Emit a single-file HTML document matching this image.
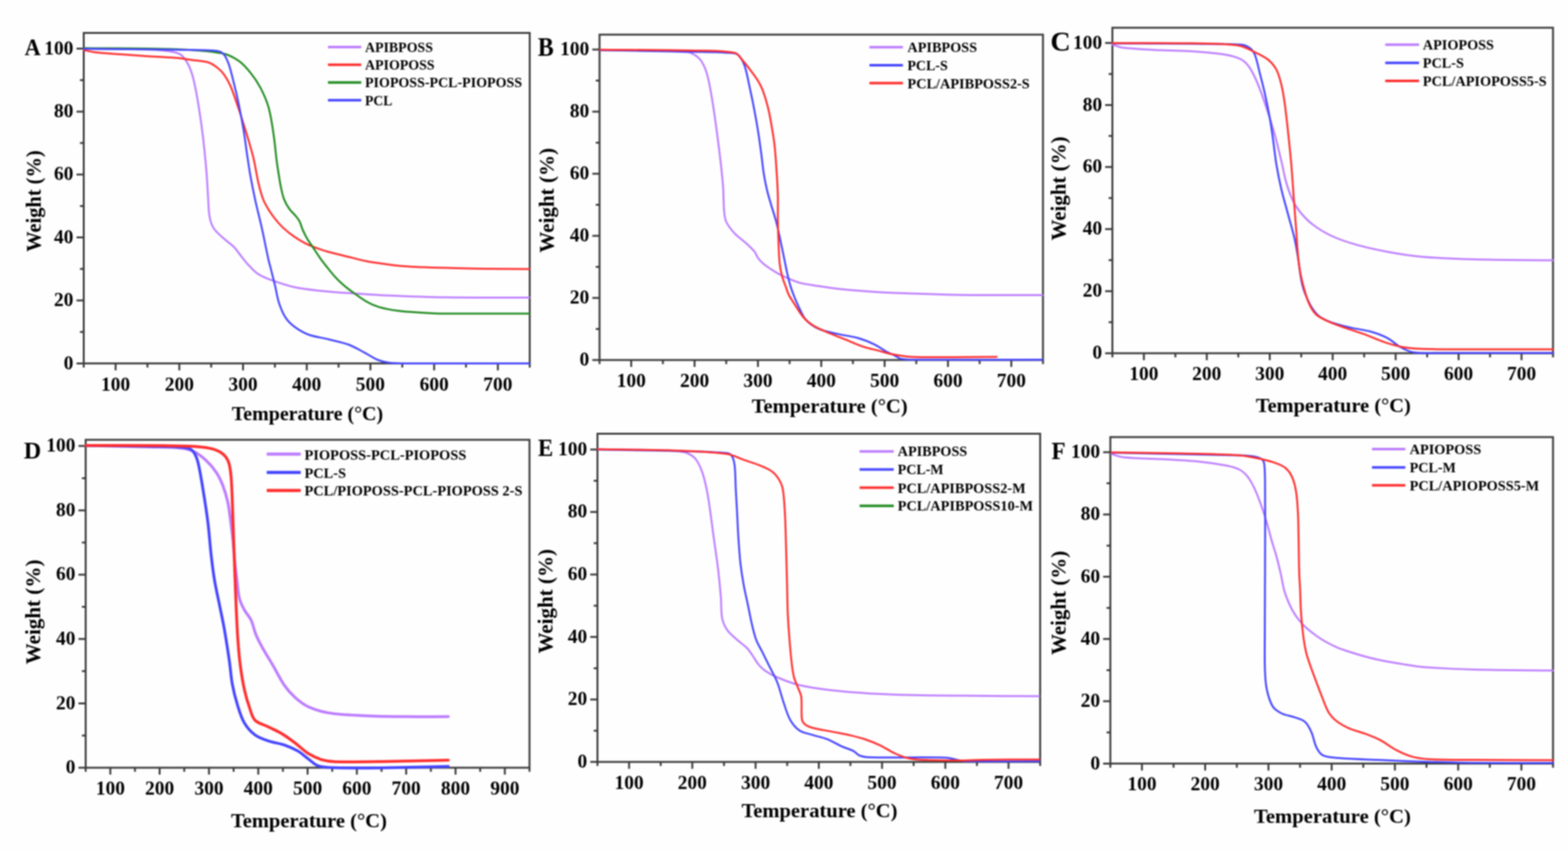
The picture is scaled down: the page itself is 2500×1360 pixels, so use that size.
<!DOCTYPE html>
<html><head><meta charset="utf-8"><title>TGA curves</title>
<style>html,body{margin:0;padding:0;background:#fefefe;}svg{display:block;filter:blur(1px);}</style>
</head><body>
<svg width="2500" height="1360" viewBox="0 0 2500 1360">
<rect width="2500" height="1360" fill="#fefefe"/>
<g font-family="'Liberation Serif', 'Times New Roman', serif" font-weight="bold" fill="#000">
<rect x="133.5" y="52.5" width="711.1" height="526.9" fill="none" stroke="#3a3a3a" stroke-width="3"/>
<path d="M133.5,579.4H122M133.5,529.2H127.5M133.5,479H122M133.5,428.8H127.5M133.5,378.6H122M133.5,328.4H127.5M133.5,278.3H122M133.5,228.1H127.5M133.5,177.9H122M133.5,127.7H127.5M133.5,77.5H122M133.5,579.4V585.9M184.3,579.4V590.4M235.1,579.4V585.9M285.9,579.4V590.4M336.7,579.4V585.9M387.5,579.4V590.4M438.3,579.4V585.9M489.1,579.4V590.4M539.8,579.4V585.9M590.6,579.4V590.4M641.4,579.4V585.9M692.2,579.4V590.4M743,579.4V585.9M793.8,579.4V590.4M844.6,579.4V585.9" stroke="#3a3a3a" stroke-width="3" fill="none"/>
<text x="117.1" y="588.5" font-size="31" text-anchor="end">0</text>
<text x="117.1" y="488.1" font-size="31" text-anchor="end">20</text>
<text x="117.1" y="387.7" font-size="31" text-anchor="end">40</text>
<text x="117.1" y="287.4" font-size="31" text-anchor="end">60</text>
<text x="117.1" y="187" font-size="31" text-anchor="end">80</text>
<text x="117.1" y="86.6" font-size="31" text-anchor="end">100</text>
<text x="184.3" y="622.5" font-size="31" text-anchor="middle">100</text>
<text x="285.9" y="622.5" font-size="31" text-anchor="middle">200</text>
<text x="387.5" y="622.5" font-size="31" text-anchor="middle">300</text>
<text x="489.1" y="622.5" font-size="31" text-anchor="middle">400</text>
<text x="590.6" y="622.5" font-size="31" text-anchor="middle">500</text>
<text x="692.2" y="622.5" font-size="31" text-anchor="middle">600</text>
<text x="793.8" y="622.5" font-size="31" text-anchor="middle">700</text>
<text x="369.6" y="670.3" font-size="32.5" textLength="241.3" lengthAdjust="spacingAndGlyphs">Temperature (°C)</text>
<text transform="translate(64.6,401.4) rotate(-90)" font-size="33" textLength="161.7" lengthAdjust="spacingAndGlyphs">Weight (%)</text>
<text x="39.3" y="88.2" font-size="38.8" textLength="25.6" lengthAdjust="spacingAndGlyphs">A</text>
<path d="M522.9,75.1H576" stroke="#bc7cff" stroke-width="4"/>
<text x="582" y="82.9" font-size="22.5" textLength="108.2" lengthAdjust="spacingAndGlyphs">APIBPOSS</text>
<path d="M522.9,103.3H576" stroke="#ff2c2c" stroke-width="4"/>
<text x="582" y="110.8" font-size="22.5" textLength="110.9" lengthAdjust="spacingAndGlyphs">APIOPOSS</text>
<path d="M522.9,131.6H576" stroke="#1e8a1e" stroke-width="4"/>
<text x="582" y="139.3" font-size="22.5" textLength="250.3" lengthAdjust="spacingAndGlyphs">PIOPOSS-PCL-PIOPOSS</text>
<path d="M522.9,159.7H576" stroke="#4444ff" stroke-width="4"/>
<text x="582" y="167.9" font-size="22.5" textLength="43.6" lengthAdjust="spacingAndGlyphs">PCL</text>
<path d="M133.5,77.8C166.6,78.1 199.8,78 232.9,78.8C243.2,79 253.5,79.8 263.8,80.9C269.2,81.5 274.8,82.2 280,83.8C283.7,84.9 287.9,86.4 290.6,89.1C295,93.5 298.5,99.3 301.2,105C304.7,112.5 307.2,120.7 309.1,128.8C312.4,142.7 314.7,156.9 317,171.1C319.6,186.9 321.8,202.9 323.7,218.8C325.8,236.4 327.5,254 329,271.7C330.1,284.9 330.7,298.2 331.6,311.4C332.4,322.9 332.2,334.6 334.2,345.8C335.3,352.2 337.4,358.9 340.9,364.3C344.9,370.4 351.2,375.2 356.7,380.2C361.8,384.9 367.8,388.6 372.6,393.4C376.6,397.4 379.7,402.3 383.2,406.7C386.7,411.1 390,415.8 393.8,419.9C399.2,425.7 404.4,432.1 410.9,436.5C417.9,441.2 426.3,444.3 434.4,447.2C446,451.4 457.9,455.4 470,458C483.5,460.9 497.4,462.2 511.2,463.7C528.3,465.5 545.5,466.6 562.7,467.8C579.8,469 597,470.2 614.1,470.9C646.1,472.2 678,473.5 710,474C754.7,474.7 799.3,474.3 844,474.5" stroke="#bc7cff" stroke-width="3.0" fill="none" stroke-linejoin="round" stroke-linecap="round"/>
<path d="M133.5,79.8C139.2,80.9 144.8,82.5 150.6,83.2C164.3,84.8 178.1,85.5 191.8,86.6C205.5,87.7 219.2,88.7 232.9,89.6C248.6,90.6 264.3,91 280,92.3C288.9,93 297.7,94.5 306.5,95.7C315.3,96.9 324.5,97.2 332.9,99.7C337.8,101.2 342.2,104.5 346.2,107.6C350.1,110.6 353.8,114.2 356.7,118.2C360.8,123.9 364.4,130.2 367.3,136.7C371.5,146.1 374.5,156.1 377.9,165.8C380.7,173.7 383.3,181.7 385.8,189.7C389.4,201.1 393,212.6 396.4,224.1C399.2,233.8 402.1,243.4 404.4,253.2C407.4,266.3 409.2,279.8 412.3,292.9C414.4,301.8 416.8,310.8 420.2,319.3C422.7,325.5 426.4,331.3 430,337C433,341.7 436.4,346.3 440,350.6C443.7,355.1 447.5,359.6 451.8,363.5C457.3,368.6 463.3,373.3 469.4,377.6C475,381.5 481,385 487.1,388.2C491.6,390.5 496.4,392.3 501.2,394.1C508.2,396.7 515.2,399.2 522.4,401.2C534.8,404.7 547.5,407.5 560,410.6C567.8,412.5 575.5,414.8 583.3,416.3C593.5,418.3 603.8,419.6 614.1,421C624.4,422.4 634.7,423.7 645,424.6C655.3,425.4 665.6,425.7 675.9,426.1C687.3,426.5 698.6,426.8 710,427.1C730,427.6 750,428.2 770,428.5C794.7,428.8 819.3,428.8 844,429" stroke="#ff2c2c" stroke-width="3.0" fill="none" stroke-linejoin="round" stroke-linecap="round"/>
<path d="M133.5,76.8C182.3,77.4 231.2,76.7 280,78.5C304.8,79.4 330,80.7 354.1,85.1C363.5,86.8 372.7,91.7 380.6,97C387.7,101.8 393.6,108.8 399.1,115.6C405.1,123 410.6,131 415,139.4C420.3,149.5 425.1,160.2 428.2,171.1C432.1,184.9 434,199.3 436.1,213.5C438.4,228.4 439.4,243.5 441.4,258.5C442.6,267.4 444.1,276.2 445.5,285C446.3,290 447.1,295 448.2,300C449.5,305.9 450.7,312 452.9,317.6C455,323 457.9,328.2 461.2,332.9C464.2,337.2 468.5,340.6 471.8,344.7C473.9,347.3 476.1,349.9 477.6,352.9C479.6,357 480.6,361.7 482.4,365.9C484.5,370.7 486.8,375.5 489.4,380C492.2,384.9 495.7,389.4 498.8,394.1C502.7,400 506.5,406 510.6,411.8C514.3,417 518.4,422.1 522.4,427.1C526.2,431.9 530,436.7 534.1,441.2C537.8,445.3 541.8,449.2 545.9,452.9C549.3,456 552.8,458.8 556.5,461.5C565.3,467.9 574,474.7 583.3,480.2C589.7,484 596.7,487.3 603.8,489.4C613.8,492.4 624.3,494.3 634.7,495.6C648.3,497.4 662.2,497.9 675.9,498.7C687.3,499.4 698.6,499.9 710,500C754.7,500.3 799.3,500 844,500" stroke="#1e8a1e" stroke-width="3.0" fill="none" stroke-linejoin="round" stroke-linecap="round"/>
<path d="M133.5,77.8C182.3,78.3 231.2,78.5 280,79.3C302.1,79.7 324.5,79.2 346.2,81.2C350.1,81.6 354.2,83.7 356.7,86.5C360.4,90.7 362.7,96.8 364.7,102.3C368,111.7 370.2,121.7 372.6,131.4C375.5,142.8 378.2,154.3 380.6,165.8C383.5,179.9 386.1,194 388.5,208.2C390.5,220.5 392,232.9 393.8,245.2C395.5,256.7 397.1,268.2 399.1,279.6C401.5,292.9 404.1,306.1 407,319.3C410.3,334.4 414.3,349.3 417.6,364.3C421.3,381 424.5,397.9 428.2,414.6C429.4,419.8 430.9,424.9 432.2,430C434.4,438.6 436.5,447.1 438.6,455.7C440.8,464.9 442,474.5 445,483.4C447.7,491.5 451,499.9 455.7,506.9C459.5,512.7 465,517.7 470.6,521.8C477.1,526.5 484.3,530.8 491.9,533.5C502.1,537.2 513.3,538.3 523.9,541C534.6,543.7 545.6,545.7 555.9,549.5C564.8,552.8 573,557.9 581.5,562.3C588.7,566.1 595.4,570.9 602.8,574C608.2,576.2 614.1,577.5 619.9,578.3C626.5,579.3 633.3,579.4 640,579.4C708,579.7 776,579.4 844,579.4" stroke="#4444ff" stroke-width="3.0" fill="none" stroke-linejoin="round" stroke-linecap="round"/>
<rect x="955.9" y="55.2" width="707" height="518.8" fill="none" stroke="#3a3a3a" stroke-width="3"/>
<path d="M955.9,574H944.4M955.9,524.5H949.9M955.9,475H944.4M955.9,425.5H949.9M955.9,376H944.4M955.9,326.5H949.9M955.9,277H944.4M955.9,227.5H949.9M955.9,178H944.4M955.9,128.5H949.9M955.9,79H944.4M955.9,574V580.5M1006.4,574V585M1056.9,574V580.5M1107.4,574V585M1157.9,574V580.5M1208.4,574V585M1258.9,574V580.5M1309.4,574V585M1359.9,574V580.5M1410.4,574V585M1460.9,574V580.5M1511.4,574V585M1561.9,574V580.5M1612.4,574V585M1662.9,574V580.5" stroke="#3a3a3a" stroke-width="3" fill="none"/>
<text x="939.5" y="583.1" font-size="31" text-anchor="end">0</text>
<text x="939.5" y="484.1" font-size="31" text-anchor="end">20</text>
<text x="939.5" y="385.1" font-size="31" text-anchor="end">40</text>
<text x="939.5" y="286.1" font-size="31" text-anchor="end">60</text>
<text x="939.5" y="187.1" font-size="31" text-anchor="end">80</text>
<text x="939.5" y="88.1" font-size="31" text-anchor="end">100</text>
<text x="1006.4" y="617" font-size="31" text-anchor="middle">100</text>
<text x="1107.4" y="617" font-size="31" text-anchor="middle">200</text>
<text x="1208.4" y="617" font-size="31" text-anchor="middle">300</text>
<text x="1309.4" y="617" font-size="31" text-anchor="middle">400</text>
<text x="1410.4" y="617" font-size="31" text-anchor="middle">500</text>
<text x="1511.4" y="617" font-size="31" text-anchor="middle">600</text>
<text x="1612.4" y="617" font-size="31" text-anchor="middle">700</text>
<text x="1198.5" y="658.2" font-size="32.5" textLength="248.6" lengthAdjust="spacingAndGlyphs">Temperature (°C)</text>
<text transform="translate(883.1,402.9) rotate(-90)" font-size="33" textLength="167" lengthAdjust="spacingAndGlyphs">Weight (%)</text>
<text x="857.4" y="89.4" font-size="41.8" textLength="25.4" lengthAdjust="spacingAndGlyphs">B</text>
<path d="M1386.2,75.2H1439.6" stroke="#bc7cff" stroke-width="4"/>
<text x="1446.8" y="83.2" font-size="22.5" textLength="111" lengthAdjust="spacingAndGlyphs">APIBPOSS</text>
<path d="M1386.2,104H1439.6" stroke="#4444ff" stroke-width="4"/>
<text x="1446.8" y="112" font-size="22.5" textLength="64.2" lengthAdjust="spacingAndGlyphs">PCL-S</text>
<path d="M1386.2,132.4H1439.6" stroke="#ff2c2c" stroke-width="4"/>
<text x="1446.8" y="140.8" font-size="22.5" textLength="195" lengthAdjust="spacingAndGlyphs">PCL/APIBPOSS2-S</text>
<path d="M957,79.7C990.6,80 1024.3,79.9 1057.9,80.7C1068.2,80.9 1078.5,82 1088.8,82.8C1092.5,83.1 1096.7,82.4 1100,83.8C1105.7,86.2 1112,89.7 1115.9,94.4C1120.8,100.3 1124.1,108.1 1126.5,115.6C1130.3,127.5 1132.2,140.2 1134.4,152.6C1137.5,170.2 1139.9,187.8 1142.3,205.5C1144.7,223.1 1147,240.8 1149,258.5C1150.5,271.7 1152,284.9 1152.9,298.2C1153.8,310.1 1153.4,322.2 1154.4,334.1C1154.9,340.5 1155.1,347.3 1157.6,353C1160.7,360 1166.1,366.5 1171.4,372.3C1176.9,378.2 1184,382.6 1190,388.1C1194.6,392.3 1199.3,396.6 1203.2,401.4C1205.4,404.2 1206.2,408 1208.3,410.9C1210.6,414.1 1213.4,417.2 1216.4,419.8C1220.1,423.1 1224.3,426 1228.5,428.7C1233.8,432.2 1239.1,435.5 1244.7,438.4C1249.9,441.1 1255.4,443.5 1260.9,445.7C1266.2,447.8 1271.5,450 1277,451.4C1284.5,453.3 1292.3,454.2 1300,455.4C1312.1,457.3 1324.2,459.3 1336.4,460.6C1357.5,462.8 1378.8,464.4 1400,465.7C1422,467 1444.1,467.5 1466.2,468.3C1488.2,469.1 1510.3,470.1 1532.3,470.3C1575.5,470.8 1618.8,470.4 1662,470.5" stroke="#bc7cff" stroke-width="3.0" fill="none" stroke-linejoin="round" stroke-linecap="round"/>
<path d="M957,80.1C1004.7,80.9 1052.3,81.4 1100,82.5C1123.8,83.1 1148.1,82.8 1171.4,85.1C1174.5,85.4 1177.5,88 1179.4,90.4C1182.8,94.6 1185.6,99.8 1187.3,105C1190.9,116.1 1192.8,127.9 1195.3,139.4C1197.6,149.9 1199.9,160.5 1201.9,171.1C1204.3,183.4 1206.5,195.8 1208.5,208.2C1210.5,220.5 1212.1,232.9 1213.8,245.2C1215.2,255.8 1216.1,266.5 1217.8,277C1219.2,285.9 1220.9,294.7 1223,303.4C1224.9,311.4 1227.4,319.4 1229.7,327.3C1232.3,336.1 1235.3,344.8 1237.6,353.7C1240.1,363.3 1242.1,373.1 1244.2,382.8C1246.5,393.4 1248.6,404 1250.8,414.6C1252.2,421.4 1253.5,428.2 1255,435C1256.5,441.7 1258,448.4 1260,455C1261.7,460.8 1263.8,466.4 1266,472C1268,477.2 1270.1,482.3 1272.6,487.3C1276.5,495 1279.4,503.7 1285,510C1290.4,516.1 1298,521.1 1305.6,524.4C1315.2,528.6 1326.1,530.2 1336.4,532.6C1346.6,535 1357.2,535.9 1367.3,538.8C1376.5,541.4 1385.5,545 1394.1,549.1C1401.3,552.5 1407.7,557.6 1414.7,561.4C1418.5,563.5 1422.6,565 1426.5,566.9C1430,568.6 1433.2,571.6 1437,572.2C1446.4,573.8 1456.5,573.4 1466.2,573.5C1531.5,573.9 1596.7,573.5 1662,573.5" stroke="#4444ff" stroke-width="3.0" fill="none" stroke-linejoin="round" stroke-linecap="round"/>
<path d="M957,79.3C1004.7,79.7 1052.4,79.5 1100,80.6C1123.8,81.2 1148.9,80 1171.4,84.3C1177.2,85.4 1180.6,92.5 1184.7,97C1188.5,101.2 1191.9,105.8 1195.3,110.3C1199.8,116.4 1204.6,122.4 1208.5,128.8C1211.6,133.8 1214.3,139.2 1216.4,144.7C1219.6,153.3 1222.2,162.2 1224.4,171.1C1226.6,179.8 1228.2,188.7 1229.7,197.6C1231.7,209 1233.7,220.5 1235,232C1236.5,245.2 1237.2,258.5 1238.1,271.7C1239,284.9 1239.8,298.2 1240.2,311.4C1240.5,324.6 1240,337.9 1240.2,351.1C1240.4,362.4 1240.7,373.7 1241.2,385C1241.7,396.7 1241.9,408.4 1243.1,420C1243.8,427 1245.3,434.1 1247.1,440.9C1248.5,446.4 1250.9,451.6 1252.8,457C1254.4,461.3 1255.6,465.9 1257.6,470C1259.5,473.9 1262,477.5 1264.4,481.1C1269.8,489.4 1274.6,498.3 1280.9,505.8C1284.9,510.6 1290,514.8 1295.3,518.2C1301.7,522.3 1308.8,525.4 1315.8,528.5C1325.9,533 1336.4,536.7 1346.7,540.8C1357,544.9 1367.1,549.6 1377.6,553.2C1384.9,555.7 1392.5,557 1400,558.9C1406.6,560.6 1413.1,562.9 1419.8,564.2C1430.7,566.3 1441.8,568.3 1452.9,568.9C1474.9,570.1 1497,569.5 1519.1,569.5C1542.5,569.5 1565.8,569.1 1589.2,568.9" stroke="#ff2c2c" stroke-width="3.0" fill="none" stroke-linejoin="round" stroke-linecap="round"/>
<rect x="1773.6" y="44.2" width="702.5" height="519" fill="none" stroke="#3a3a3a" stroke-width="3"/>
<path d="M1773.6,563.2H1762.1M1773.6,513.7H1767.6M1773.6,464.2H1762.1M1773.6,414.8H1767.6M1773.6,365.3H1762.1M1773.6,315.8H1767.6M1773.6,266.3H1762.1M1773.6,216.8H1767.6M1773.6,167.4H1762.1M1773.6,117.9H1767.6M1773.6,68.4H1762.1M1773.6,563.2V569.7M1823.8,563.2V574.2M1874,563.2V569.7M1924.1,563.2V574.2M1974.3,563.2V569.7M2024.5,563.2V574.2M2074.7,563.2V569.7M2124.8,563.2V574.2M2175,563.2V569.7M2225.2,563.2V574.2M2275.4,563.2V569.7M2325.6,563.2V574.2M2375.7,563.2V569.7M2425.9,563.2V574.2M2476.1,563.2V569.7" stroke="#3a3a3a" stroke-width="3" fill="none"/>
<text x="1757.2" y="572.3" font-size="31" text-anchor="end">0</text>
<text x="1757.2" y="473.3" font-size="31" text-anchor="end">20</text>
<text x="1757.2" y="374.4" font-size="31" text-anchor="end">40</text>
<text x="1757.2" y="275.4" font-size="31" text-anchor="end">60</text>
<text x="1757.2" y="176.5" font-size="31" text-anchor="end">80</text>
<text x="1757.2" y="77.5" font-size="31" text-anchor="end">100</text>
<text x="1823.8" y="605.5" font-size="31" text-anchor="middle">100</text>
<text x="1924.1" y="605.5" font-size="31" text-anchor="middle">200</text>
<text x="2024.5" y="605.5" font-size="31" text-anchor="middle">300</text>
<text x="2124.8" y="605.5" font-size="31" text-anchor="middle">400</text>
<text x="2225.2" y="605.5" font-size="31" text-anchor="middle">500</text>
<text x="2325.6" y="605.5" font-size="31" text-anchor="middle">600</text>
<text x="2425.9" y="605.5" font-size="31" text-anchor="middle">700</text>
<text x="2002.2" y="657.1" font-size="32.5" textLength="247.2" lengthAdjust="spacingAndGlyphs">Temperature (°C)</text>
<text transform="translate(1698.7,383.6) rotate(-90)" font-size="33" textLength="166.1" lengthAdjust="spacingAndGlyphs">Weight (%)</text>
<text x="1674.8" y="81.1" font-size="43.9" textLength="32.3" lengthAdjust="spacingAndGlyphs">C</text>
<path d="M2208.6,71.2H2262.6" stroke="#bc7cff" stroke-width="4"/>
<text x="2268.6" y="79.2" font-size="22.5" textLength="113.4" lengthAdjust="spacingAndGlyphs">APIOPOSS</text>
<path d="M2208.6,100.2H2262.6" stroke="#4444ff" stroke-width="4"/>
<text x="2268.6" y="108" font-size="22.5" textLength="65.4" lengthAdjust="spacingAndGlyphs">PCL-S</text>
<path d="M2208.6,129H2262.6" stroke="#ff2c2c" stroke-width="4"/>
<text x="2268.6" y="136.8" font-size="22.5" textLength="197.4" lengthAdjust="spacingAndGlyphs">PCL/APIOPOSS5-S</text>
<path d="M1773.1,70.9C1778.9,72.6 1784.6,75.3 1790.6,76C1811,78.4 1831.7,79 1852.3,80.1C1868.2,80.9 1884.1,80.7 1900,81.8C1917.7,83 1935.5,84.1 1952.9,87C1962,88.5 1971.5,90.8 1979.4,95C1984.7,97.8 1989.2,103.1 1992.6,108.2C1998,116.3 2002,125.6 2005.8,134.7C2010.8,146.8 2015,159.3 2019.1,171.7C2023.8,185.7 2028.3,199.9 2032.3,214.1C2036.2,228.1 2039.5,242.3 2042.9,256.4C2045.6,267.6 2047.4,279 2050.5,290C2053.1,299.1 2056.1,308.2 2060,316.8C2063.3,324 2067.4,331.1 2072.3,337.3C2078.3,344.8 2085.2,352.1 2092.9,357.9C2102.4,365.1 2112.9,371.5 2123.8,376.5C2137,382.5 2151,387 2165,390.9C2181.9,395.6 2199.1,399.1 2216.4,402.2C2233.4,405.3 2250.6,407.9 2267.9,409.4C2295.2,411.7 2322.6,412.8 2350,413.5C2392,414.6 2434,414.5 2476,415" stroke="#bc7cff" stroke-width="3.0" fill="none" stroke-linejoin="round" stroke-linecap="round"/>
<path d="M1773.1,69.2C1815.4,69.4 1857.7,69.4 1900,69.8C1926.5,70.1 1953.2,69.3 1979.4,71.2C1984.1,71.5 1988.9,73.8 1992.6,76.5C1996,79 1999,83 2000.6,87C2004.3,96.2 2006,106.4 2008.5,116.2C2011.2,126.7 2014,137.3 2016.4,147.9C2019.3,161.1 2022,174.3 2024.4,187.6C2026.4,199 2028.1,210.5 2029.7,222C2031.6,235.2 2032.8,248.5 2035,261.7C2037.2,275 2039.8,288.3 2042.9,301.4C2046,314.7 2050,327.9 2053.5,341.1C2057,354.3 2061,367.5 2064.1,380.8C2066.3,390.4 2067.8,400.2 2069.4,409.9C2071.9,424.8 2072.8,440.1 2076.5,454.7C2079.2,465.4 2083.6,475.9 2088.8,485.6C2092.5,492.4 2097.3,499.3 2103.2,504.1C2109,508.9 2116.6,511.8 2123.8,514.4C2133.8,518 2144.3,520.2 2154.7,522.6C2164.9,525 2175.5,525.9 2185.6,528.8C2194.7,531.4 2203.9,534.7 2212.3,539.1C2219.7,542.9 2225.6,549.5 2232.9,553.5C2239.3,557 2246.3,560.7 2253.5,561.7C2268.6,563.8 2284.5,562.6 2300,562.7C2358.7,563 2417.3,562.7 2476,562.7" stroke="#4444ff" stroke-width="3.0" fill="none" stroke-linejoin="round" stroke-linecap="round"/>
<path d="M1773.1,68.8C1815.4,68.9 1857.7,68.3 1900,69.1C1924.7,69.6 1949.9,69.1 1974.1,72.5C1983.4,73.8 1992,79 2000.6,83.1C2007.9,86.5 2015.5,90 2021.7,95C2027,99.3 2031.8,104.9 2035,110.9C2038.9,118.1 2040.9,126.6 2042.9,134.7C2045.3,144.2 2046.8,154 2048.2,163.8C2050.3,178.7 2051.9,193.8 2053.5,208.8C2055.4,226.4 2057.3,244 2058.8,261.7C2060.3,279.3 2061.4,297 2062.7,314.6C2064,332.2 2065.4,349.9 2066.7,367.5C2067.4,376.7 2067.7,385.9 2068.5,395C2069.5,406.7 2070.3,418.5 2072.3,430C2074.3,441.8 2077.3,453.5 2080.6,465C2082.8,472.7 2085.2,480.5 2088.8,487.6C2091.4,492.8 2094.7,498.3 2099.1,502C2104.3,506.5 2111.2,509.4 2117.6,512.3C2126.3,516.3 2135.4,519.4 2144.4,522.6C2154.6,526.2 2165.1,529.2 2175.3,532.9C2185.7,536.7 2195.6,541.7 2206.1,545.2C2216.2,548.6 2226.5,551.8 2237,553.5C2250.5,555.6 2264.4,556.4 2278.2,556.6C2344.1,557.6 2410.1,556.9 2476,557" stroke="#ff2c2c" stroke-width="3.0" fill="none" stroke-linejoin="round" stroke-linecap="round"/>
<rect x="136.6" y="701.2" width="707.6" height="522.8" fill="none" stroke="#3a3a3a" stroke-width="3"/>
<path d="M136.6,1224H125.1M136.6,1172.7H130.6M136.6,1121.4H125.1M136.6,1070.1H130.6M136.6,1018.8H125.1M136.6,967.5H130.6M136.6,916.3H125.1M136.6,865H130.6M136.6,813.7H125.1M136.6,762.4H130.6M136.6,711.1H125.1M136.6,1224V1230.5M175.9,1224V1235M215.2,1224V1230.5M254.5,1224V1235M293.8,1224V1230.5M333.2,1224V1235M372.5,1224V1230.5M411.8,1224V1235M451.1,1224V1230.5M490.4,1224V1235M529.7,1224V1230.5M569,1224V1235M608.3,1224V1230.5M647.6,1224V1235M687,1224V1230.5M726.3,1224V1235M765.6,1224V1230.5M804.9,1224V1235M844.2,1224V1230.5" stroke="#3a3a3a" stroke-width="3" fill="none"/>
<text x="120.2" y="1233.1" font-size="31" text-anchor="end">0</text>
<text x="120.2" y="1130.5" font-size="31" text-anchor="end">20</text>
<text x="120.2" y="1027.9" font-size="31" text-anchor="end">40</text>
<text x="120.2" y="925.4" font-size="31" text-anchor="end">60</text>
<text x="120.2" y="822.8" font-size="31" text-anchor="end">80</text>
<text x="120.2" y="720.2" font-size="31" text-anchor="end">100</text>
<text x="175.9" y="1266.5" font-size="31" text-anchor="middle">100</text>
<text x="254.5" y="1266.5" font-size="31" text-anchor="middle">200</text>
<text x="333.2" y="1266.5" font-size="31" text-anchor="middle">300</text>
<text x="411.8" y="1266.5" font-size="31" text-anchor="middle">400</text>
<text x="490.4" y="1266.5" font-size="31" text-anchor="middle">500</text>
<text x="569" y="1266.5" font-size="31" text-anchor="middle">600</text>
<text x="647.6" y="1266.5" font-size="31" text-anchor="middle">700</text>
<text x="726.3" y="1266.5" font-size="31" text-anchor="middle">800</text>
<text x="804.9" y="1266.5" font-size="31" text-anchor="middle">900</text>
<text x="368.2" y="1319.2" font-size="32.5" textLength="248.6" lengthAdjust="spacingAndGlyphs">Temperature (°C)</text>
<text transform="translate(63.8,1059.3) rotate(-90)" font-size="33" textLength="167.2" lengthAdjust="spacingAndGlyphs">Weight (%)</text>
<text x="37.9" y="730.7" font-size="38.8" textLength="27.7" lengthAdjust="spacingAndGlyphs">D</text>
<path d="M425.3,723.9H479.5" stroke="#bc7cff" stroke-width="5"/>
<text x="485.5" y="732.5" font-size="22.5" textLength="258" lengthAdjust="spacingAndGlyphs">PIOPOSS-PCL-PIOPOSS</text>
<path d="M425.3,753.2H479.5" stroke="#4444ff" stroke-width="5"/>
<text x="485.5" y="761.8" font-size="22.5" textLength="66.2" lengthAdjust="spacingAndGlyphs">PCL-S</text>
<path d="M425.3,782.1H479.5" stroke="#ff2c2c" stroke-width="5"/>
<text x="485.5" y="790.1" font-size="22.5" textLength="347.5" lengthAdjust="spacingAndGlyphs">PCL/PIOPOSS-PCL-PIOPOSS 2-S</text>
<path d="M137.1,710.3C170.7,711 204.3,711.5 237.9,712.4C255.1,712.9 272.4,712.5 289.4,714.4C296.6,715.2 303.9,717.3 310.3,720.5C317.1,723.9 323.2,729.1 328.8,734.4C334.7,739.9 340.2,746.2 344.7,752.9C349.1,759.4 352.5,766.8 355.3,774.1C358.6,782.7 361.2,791.6 363.2,800.6C365.1,809.3 366,818.2 367.2,827C368.6,837.6 370,848.2 371.1,858.8C372.2,869.3 372.7,880 373.8,890.5C375,902 376.4,913.4 377.8,924.9C379,934.6 379.4,944.6 381.7,954C383.3,960.5 386.5,966.7 389.7,972.6C392.7,978.1 397.5,982.7 400.2,988.4C403.7,995.9 405,1004.5 408.2,1012.2C411.2,1019.5 415,1026.5 418.8,1033.4C423.8,1042.4 429.4,1051 434.6,1059.9C441,1070.9 446.4,1082.5 453.6,1092.9C458.4,1099.9 464.3,1106.5 470.6,1112.1C477,1117.8 484.1,1123.4 491.9,1127C501.9,1131.6 513,1134.8 523.9,1136.6C541.4,1139.5 559.4,1140 577.2,1140.9C598.5,1142 619.9,1142.3 641.2,1142.6C665.7,1142.9 690.3,1142.6 714.8,1142.6" stroke="#bc7cff" stroke-width="4.5" fill="none" stroke-linejoin="round" stroke-linecap="round"/>
<path d="M137.1,710.3C178.1,710.8 219.1,710.8 260,711.9C273.3,712.3 287,712.2 299.7,714.6C303.3,715.3 306.9,718.2 309,721.2C312.2,725.7 314.2,731.5 315.6,737C319.1,750.9 321.1,765.2 323.5,779.4C326.4,797 329.2,814.6 331.4,832.3C333.6,849.9 334.7,867.6 336.7,885.2C338.2,898.5 339.8,911.7 342,924.9C344.2,938.2 347.3,951.4 350,964.6C352.6,977.8 355.6,991 357.9,1004.3C360.8,1021 363.4,1037.8 365.8,1054.6C367.5,1066.6 368.2,1078.9 370.4,1090.8C372.5,1102.3 375.4,1113.7 378.9,1124.9C381.8,1134.3 384.6,1144.2 389.6,1152.6C393.9,1159.8 399.9,1166.8 406.6,1171.8C412.7,1176.4 420.6,1178.9 428,1181.4C436.3,1184.2 445.3,1185 453.6,1187.8C460.9,1190.3 468.2,1193.5 474.9,1197.4C481,1201 486.2,1206 491.9,1210.2C496.8,1213.8 501.2,1219 506.9,1220.8C515.5,1223.6 525.3,1223.7 534.6,1224C563,1224.8 591.5,1224.3 619.9,1224C651.5,1223.6 683.2,1222.6 714.8,1221.9" stroke="#4444ff" stroke-width="4.5" fill="none" stroke-linejoin="round" stroke-linecap="round"/>
<path d="M137.1,710.3C178.1,710.4 219,710.2 260,710.6C277.6,710.8 295.3,710.7 312.9,711.9C321.8,712.5 330.9,713.5 339.4,715.9C345,717.5 350.9,720.1 355.3,723.8C359.3,727.1 362.7,732.1 364.5,737C367.1,744.4 367.8,752.9 368.5,760.9C369.8,775.8 370,790.8 370.6,805.8C371.3,823.5 371.9,841.1 372.5,858.8C373.1,876.4 373.7,894.1 374.3,911.7C375,929.3 375.6,947 376.4,964.6C377.2,982.2 377.9,999.9 379.1,1017.5C380.1,1031.7 381.2,1045.8 383,1059.9C384.7,1073.1 386.8,1086.3 389.6,1099.3C391.8,1109.4 394.7,1119.4 398.1,1129.1C400.4,1135.7 401.9,1143.6 406.6,1148.3C411.9,1153.6 420.9,1155.4 428,1159C435.1,1162.6 442.5,1165.6 449.3,1169.7C456.7,1174.2 463.7,1179.4 470.6,1184.6C477.9,1190.1 484.2,1196.9 491.9,1201.7C498.5,1205.8 505.9,1209.1 513.3,1211.3C520.1,1213.3 527.4,1214.3 534.6,1214.5C563,1215.2 591.5,1214.4 619.9,1214C651.5,1213.5 683.2,1212.6 714.8,1211.9" stroke="#ff2c2c" stroke-width="4.5" fill="none" stroke-linejoin="round" stroke-linecap="round"/>
<rect x="952.6" y="691.5" width="705.8" height="523.3" fill="none" stroke="#3a3a3a" stroke-width="3"/>
<path d="M952.6,1214.8H941.1M952.6,1165H946.6M952.6,1115.2H941.1M952.6,1065.4H946.6M952.6,1015.6H941.1M952.6,965.8H946.6M952.6,915.9H941.1M952.6,866.1H946.6M952.6,816.3H941.1M952.6,766.5H946.6M952.6,716.7H941.1M952.6,1214.8V1221.3M1003,1214.8V1225.8M1053.4,1214.8V1221.3M1103.8,1214.8V1225.8M1154.3,1214.8V1221.3M1204.7,1214.8V1225.8M1255.1,1214.8V1221.3M1305.5,1214.8V1225.8M1355.9,1214.8V1221.3M1406.3,1214.8V1225.8M1456.7,1214.8V1221.3M1507.2,1214.8V1225.8M1557.6,1214.8V1221.3M1608,1214.8V1225.8M1658.4,1214.8V1221.3" stroke="#3a3a3a" stroke-width="3" fill="none"/>
<text x="936.2" y="1223.9" font-size="31" text-anchor="end">0</text>
<text x="936.2" y="1124.3" font-size="31" text-anchor="end">20</text>
<text x="936.2" y="1024.7" font-size="31" text-anchor="end">40</text>
<text x="936.2" y="925" font-size="31" text-anchor="end">60</text>
<text x="936.2" y="825.4" font-size="31" text-anchor="end">80</text>
<text x="936.2" y="725.8" font-size="31" text-anchor="end">100</text>
<text x="1003" y="1257.5" font-size="31" text-anchor="middle">100</text>
<text x="1103.8" y="1257.5" font-size="31" text-anchor="middle">200</text>
<text x="1204.7" y="1257.5" font-size="31" text-anchor="middle">300</text>
<text x="1305.5" y="1257.5" font-size="31" text-anchor="middle">400</text>
<text x="1406.3" y="1257.5" font-size="31" text-anchor="middle">500</text>
<text x="1507.2" y="1257.5" font-size="31" text-anchor="middle">600</text>
<text x="1608" y="1257.5" font-size="31" text-anchor="middle">700</text>
<text x="1182.2" y="1303.3" font-size="32.5" textLength="248.7" lengthAdjust="spacingAndGlyphs">Temperature (°C)</text>
<text transform="translate(880.9,1042.1) rotate(-90)" font-size="33" textLength="166.9" lengthAdjust="spacingAndGlyphs">Weight (%)</text>
<text x="857.7" y="727.4" font-size="39.4" textLength="24.3" lengthAdjust="spacingAndGlyphs">E</text>
<path d="M1370.5,719.8H1425" stroke="#bc7cff" stroke-width="4"/>
<text x="1431.3" y="727.3" font-size="22.5" textLength="110.9" lengthAdjust="spacingAndGlyphs">APIBPOSS</text>
<path d="M1370.5,748.6H1425" stroke="#4444ff" stroke-width="4"/>
<text x="1431.3" y="756.4" font-size="22.5" textLength="73.1" lengthAdjust="spacingAndGlyphs">PCL-M</text>
<path d="M1370.5,777.5H1425" stroke="#ff2c2c" stroke-width="4"/>
<text x="1431.3" y="785.6" font-size="22.5" textLength="203.9" lengthAdjust="spacingAndGlyphs">PCL/APIBPOSS2-M</text>
<path d="M1370.5,806.4H1425" stroke="#1e8a1e" stroke-width="4"/>
<text x="1431.3" y="814" font-size="22.5" textLength="215.7" lengthAdjust="spacingAndGlyphs">PCL/APIBPOSS10-M</text>
<path d="M953.1,716.3C986.4,716.8 1019.6,717 1052.9,717.8C1061.9,718 1071,718.3 1080,719.3C1085.4,719.9 1091,720.4 1095.9,722.5C1100.7,724.6 1105.9,727.7 1109.1,731.8C1113.8,737.8 1117.1,745.5 1119.7,752.9C1123.3,763.1 1125.5,774 1127.6,784.7C1129.9,796.1 1131.3,807.6 1132.9,819.1C1134.8,832.3 1136.4,845.6 1138.2,858.8C1140.4,874.7 1142.9,890.5 1144.8,906.4C1146.6,921.4 1148.1,936.4 1149.3,951.4C1150.3,962.8 1149.3,974.7 1151.4,985.8C1152.6,992.3 1155.6,998.9 1159.4,1004.3C1163.6,1010.3 1169.8,1015.1 1175.3,1020.2C1180.4,1024.8 1186.3,1028.6 1191.1,1033.4C1194.2,1036.5 1196.6,1040.4 1199.1,1044C1202.8,1049.2 1205.7,1055 1209.7,1059.9C1212.7,1063.5 1216.1,1066.9 1220,1069.5C1226,1073.6 1232.6,1077.2 1239.4,1080C1250.8,1084.8 1262.4,1089.4 1274.4,1092.3C1291.2,1096.3 1308.6,1098.6 1325.8,1100.6C1346.3,1103 1367,1104.6 1387.6,1105.7C1418.4,1107.3 1449.2,1108.3 1480,1108.8C1539,1109.7 1598,1109.6 1657,1110" stroke="#bc7cff" stroke-width="3.0" fill="none" stroke-linejoin="round" stroke-linecap="round"/>
<path d="M953.1,716.8C995.4,717.6 1037.7,717.9 1080,719.1C1106.5,719.8 1133.4,719.9 1159.4,722.5C1162.5,722.8 1165.8,725.2 1167.3,727.8C1169.7,731.8 1170.7,737.3 1171.3,742.3C1172.7,754.5 1172.5,767 1173.1,779.4C1173.8,792.6 1174.6,805.9 1175.3,819.1C1176,832.3 1176.5,845.6 1177.4,858.8C1178.3,872 1179.1,885.3 1180.6,898.5C1181.9,910 1183.7,921.5 1185.8,932.9C1187.7,943.5 1190.3,954 1192.5,964.6C1194.7,975.2 1196.6,985.9 1199.1,996.4C1201,1004.4 1202.8,1012.5 1205.7,1020.2C1208.1,1026.6 1211.9,1032.5 1215,1038.7C1218.5,1045.8 1222,1052.8 1225.5,1059.9C1230.1,1069.3 1235.5,1078.5 1239.4,1088.2C1243.6,1098.9 1246,1110.2 1249.7,1121.1C1252.8,1130.1 1255.3,1139.7 1260,1147.9C1263.6,1154.1 1268.6,1160.4 1274.4,1164.4C1280.2,1168.3 1288.1,1169.4 1295,1171.6C1303.2,1174.2 1311.7,1175.7 1319.7,1178.8C1327.5,1181.9 1334.6,1186.6 1342.3,1190.1C1348.3,1192.8 1355,1194.3 1360.8,1197.3C1364.2,1199.1 1366.5,1203.1 1370.1,1204.5C1375.5,1206.6 1381.7,1207.4 1387.6,1207.6C1427.5,1208.6 1467.7,1206.6 1507.6,1208C1515.5,1208.3 1523,1211.3 1530.8,1212.6C1534.6,1213.2 1538.5,1213.8 1542.4,1213.8C1580.7,1214.2 1619,1213.8 1657.3,1213.8" stroke="#4444ff" stroke-width="3.0" fill="none" stroke-linejoin="round" stroke-linecap="round"/>
<path d="M953.1,716.3C995.4,717 1037.7,717 1080,718.5C1106.5,719.5 1133.3,720.2 1159.4,723.8C1168.6,725.1 1177,730 1185.8,733.1C1194.6,736.2 1203.7,738.8 1212.3,742.3C1218.7,744.9 1225.3,747.6 1230.8,751.6C1235,754.7 1238.6,759 1241.4,763.5C1244.4,768.3 1247,773.8 1248,779.4C1250.4,792.3 1250.7,805.8 1251.5,819.1C1252.5,836.7 1252.8,854.4 1253.3,872C1253.8,889.6 1254.3,907.3 1254.7,924.9C1255.2,942.6 1255.3,960.2 1256,977.9C1256.6,991.1 1257.5,1004.3 1258.6,1017.5C1259.7,1031.6 1260.9,1045.8 1262.6,1059.9C1263.4,1066.6 1264.3,1073.5 1266,1080C1267.5,1085.6 1270.3,1090.9 1272.3,1096.4C1274.1,1101.2 1276.9,1105.9 1277.5,1110.9C1278.9,1122.3 1277.2,1134.4 1278.5,1145.8C1278.9,1148.8 1280.4,1152.2 1282.6,1154.1C1285.9,1157 1290.6,1159 1295,1160.3C1305,1163.1 1315.5,1164.4 1325.8,1166.4C1336.1,1168.5 1346.5,1170.2 1356.7,1172.6C1364.5,1174.4 1372.4,1176.4 1380,1179C1387.9,1181.7 1395.7,1184.7 1403.2,1188.3C1411.2,1192.1 1418.4,1197.4 1426.4,1201C1433.9,1204.4 1441.7,1207.4 1449.6,1209.2C1457.1,1210.9 1465,1211.2 1472.8,1211.5C1492.1,1212.3 1511.5,1212.6 1530.8,1212.6C1542.4,1212.6 1554,1211.7 1565.6,1211.5C1596.2,1211.1 1626.7,1211.1 1657.3,1210.9" stroke="#ff2c2c" stroke-width="3.0" fill="none" stroke-linejoin="round" stroke-linecap="round"/>
<rect x="1770.3" y="696.9" width="705.8" height="520.5" fill="none" stroke="#3a3a3a" stroke-width="3"/>
<path d="M1770.3,1217.4H1758.8M1770.3,1167.8H1764.3M1770.3,1118.1H1758.8M1770.3,1068.5H1764.3M1770.3,1018.8H1758.8M1770.3,969.2H1764.3M1770.3,919.6H1758.8M1770.3,869.9H1764.3M1770.3,820.3H1758.8M1770.3,770.6H1764.3M1770.3,721H1758.8M1770.3,1217.4V1223.9M1820.7,1217.4V1228.4M1871.1,1217.4V1223.9M1921.5,1217.4V1228.4M1972,1217.4V1223.9M2022.4,1217.4V1228.4M2072.8,1217.4V1223.9M2123.2,1217.4V1228.4M2173.6,1217.4V1223.9M2224,1217.4V1228.4M2274.4,1217.4V1223.9M2324.9,1217.4V1228.4M2375.3,1217.4V1223.9M2425.7,1217.4V1228.4M2476.1,1217.4V1223.9" stroke="#3a3a3a" stroke-width="3" fill="none"/>
<text x="1753.9" y="1226.5" font-size="31" text-anchor="end">0</text>
<text x="1753.9" y="1127.2" font-size="31" text-anchor="end">20</text>
<text x="1753.9" y="1027.9" font-size="31" text-anchor="end">40</text>
<text x="1753.9" y="928.7" font-size="31" text-anchor="end">60</text>
<text x="1753.9" y="829.4" font-size="31" text-anchor="end">80</text>
<text x="1753.9" y="730.1" font-size="31" text-anchor="end">100</text>
<text x="1820.7" y="1259.7" font-size="31" text-anchor="middle">100</text>
<text x="1921.5" y="1259.7" font-size="31" text-anchor="middle">200</text>
<text x="2022.4" y="1259.7" font-size="31" text-anchor="middle">300</text>
<text x="2123.2" y="1259.7" font-size="31" text-anchor="middle">400</text>
<text x="2224" y="1259.7" font-size="31" text-anchor="middle">500</text>
<text x="2324.9" y="1259.7" font-size="31" text-anchor="middle">600</text>
<text x="2425.7" y="1259.7" font-size="31" text-anchor="middle">700</text>
<text x="1999.3" y="1312.1" font-size="32.5" textLength="250.1" lengthAdjust="spacingAndGlyphs">Temperature (°C)</text>
<text transform="translate(1698.7,1044.3) rotate(-90)" font-size="33" textLength="166.1" lengthAdjust="spacingAndGlyphs">Weight (%)</text>
<text x="1676.4" y="732.1" font-size="40" textLength="22.5" lengthAdjust="spacingAndGlyphs">F</text>
<path d="M2187.4,716.1H2240.7" stroke="#bc7cff" stroke-width="4"/>
<text x="2247.5" y="724.2" font-size="22.5" textLength="114.1" lengthAdjust="spacingAndGlyphs">APIOPOSS</text>
<path d="M2187.4,745.3H2240.7" stroke="#4444ff" stroke-width="4"/>
<text x="2247.5" y="753.3" font-size="22.5" textLength="73.8" lengthAdjust="spacingAndGlyphs">PCL-M</text>
<path d="M2187.4,773.8H2240.7" stroke="#ff2c2c" stroke-width="4"/>
<text x="2247.5" y="781.8" font-size="22.5" textLength="206.5" lengthAdjust="spacingAndGlyphs">PCL/APIOPOSS5-M</text>
<path d="M1772.1,723.8C1778.3,725.5 1784.3,728.3 1790.6,729C1811,731.1 1831.7,730.9 1852.3,732.1C1872.9,733.3 1893.6,734.2 1914.1,736.2C1927.9,737.6 1941.7,739.6 1955.3,742.3C1962.3,743.7 1969.5,745.4 1975.8,748.5C1980.5,750.9 1984.8,754.8 1988.2,758.8C1992.3,763.7 1995.6,769.5 1998.5,775.3C2002.5,783.3 2005.7,791.6 2008.8,800C2012.6,810.2 2015.9,820.5 2019.1,830.9C2022,840.5 2024.2,850.3 2027,860C2029.5,868.9 2032.5,877.6 2035,886.5C2037.4,895.2 2039.6,904.1 2041.6,912.9C2043.7,921.9 2044.9,931.1 2047.2,940C2048.5,945.2 2050.4,950.4 2052.4,955.4C2054.8,961.4 2057.5,967.3 2060.6,972.9C2063.6,978.3 2067.1,983.5 2070.9,988.4C2074,992.4 2077.5,996.3 2081.2,999.7C2086,1004.2 2091.3,1008.2 2096.6,1012.1C2101.6,1015.7 2106.7,1019.3 2112,1022.3C2118.7,1026.1 2125.5,1029.6 2132.6,1032.6C2139.3,1035.4 2146.3,1037.6 2153.2,1039.8C2160,1042 2166.9,1044.1 2173.8,1046C2180.6,1047.9 2187.5,1049.6 2194.4,1051.2C2201.2,1052.7 2208.1,1054.1 2215,1055.3C2223.3,1056.8 2231.7,1058.1 2240,1059.4C2249.3,1060.8 2258.5,1062.7 2267.9,1063.4C2295.2,1065.4 2322.6,1066.8 2350,1067.5C2392,1068.6 2434,1068.5 2476,1069" stroke="#bc7cff" stroke-width="3.0" fill="none" stroke-linejoin="round" stroke-linecap="round"/>
<path d="M1772.1,721.8C1840,723.2 1907.9,724.1 1975.8,725.9C1984.1,726.1 1992.5,726.3 2000.5,727.9C2004.8,728.7 2009.9,730.3 2012.9,733.1C2015.1,735.1 2015.7,739.1 2016,742.3C2017.1,753.8 2016.9,765.6 2017,777.3C2017.3,818.2 2017.1,859.1 2017,900C2016.9,935.6 2016.6,971.2 2016.6,1006.8C2016.6,1027.4 2016.1,1048 2016.8,1068.5C2017.2,1078.8 2017.7,1089.4 2019.8,1099.4C2021.8,1108.6 2024.3,1118.4 2029.1,1126.1C2032.2,1131.1 2038.1,1134.8 2043.5,1137.5C2049.8,1140.6 2057.4,1141.2 2064.1,1143.6C2069.7,1145.6 2076.3,1147 2080.6,1150.8C2085.2,1154.9 2088.3,1161.4 2090.9,1167.3C2094.4,1175.2 2095.3,1184.4 2099.1,1192C2101.5,1196.7 2104.8,1202.2 2109.4,1204.4C2116.5,1207.7 2125.8,1207.8 2134.1,1208.5C2154.6,1210.2 2175.2,1210.7 2195.8,1211.6C2223.3,1212.8 2250.7,1213.9 2278.2,1214.7C2302.1,1215.4 2326.1,1216.1 2350,1216.3C2392,1216.7 2434,1216.4 2476,1216.5" stroke="#4444ff" stroke-width="3.0" fill="none" stroke-linejoin="round" stroke-linecap="round"/>
<path d="M1772.1,721.3C1805.7,721.8 1839.3,722 1872.9,722.8C1907.2,723.6 1941.6,723.8 1975.8,725.9C1986.2,726.5 1996.5,728.8 2006.7,731C2015.7,732.9 2024.8,735.1 2033.5,738.2C2039.3,740.3 2045.4,742.6 2050,746.5C2054.3,750.2 2057.9,755.6 2060.2,760.9C2063.3,767.9 2065.2,775.8 2066.4,783.5C2068.3,795 2068.9,806.8 2069.5,818.5C2070.2,832.3 2070.2,846.2 2070.5,860C2070.9,877.6 2070.9,895.3 2071.4,912.9C2071.7,921.9 2072.5,931 2072.9,940C2073.4,950.3 2073.4,960.6 2074,970.9C2074.5,979.5 2075.2,988.1 2076,996.6C2076.9,1005.2 2077.8,1013.8 2079.1,1022.3C2080.2,1029.2 2081.4,1036.1 2083.2,1042.9C2084.9,1049.4 2087.2,1055.7 2089.4,1062C2092,1069.4 2094.8,1076.7 2097.5,1084C2100.7,1092.6 2103.9,1101.2 2107.3,1109.7C2110.6,1118 2113.2,1126.8 2117.6,1134.4C2120.7,1139.8 2125.1,1144.9 2130,1148.8C2136.1,1153.8 2143.4,1157.8 2150.6,1161.1C2158.5,1164.7 2167.2,1166.3 2175.3,1169.4C2183.6,1172.5 2192.1,1175.6 2200,1179.7C2209.2,1184.5 2217.5,1191.3 2226.7,1196.1C2234.6,1200.2 2242.9,1204 2251.4,1206.4C2260,1208.8 2269.2,1210 2278.2,1210.5C2302.1,1211.8 2326.1,1211.4 2350,1211.6C2392,1211.9 2434,1211.9 2476,1212" stroke="#ff2c2c" stroke-width="3.0" fill="none" stroke-linejoin="round" stroke-linecap="round"/>
</g></svg>
</body></html>
